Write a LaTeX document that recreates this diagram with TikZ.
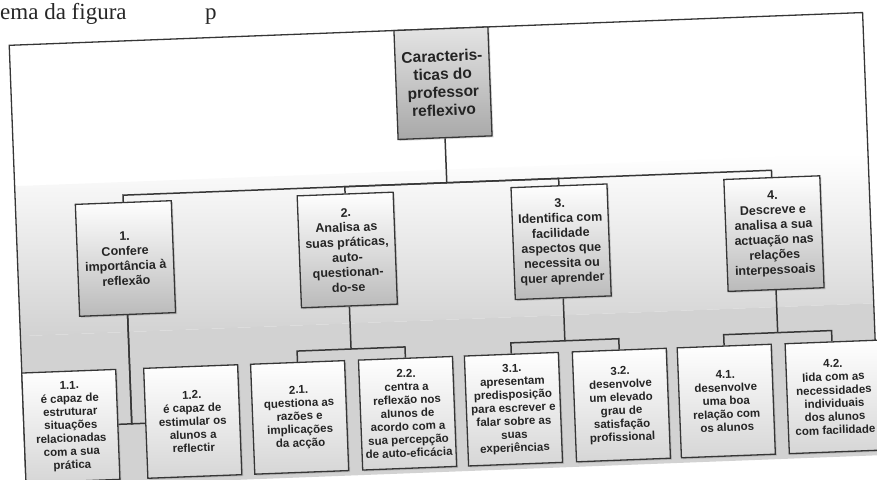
\documentclass[tikz,border=0pt]{standalone}
\usepackage{fontspec}
\setmainfont{Liberation Sans}
\newfontfamily\pageserif{Liberation Serif}
\usepackage{xcolor}
\usetikzlibrary{positioning,shadows}
\definecolor{lineGray}{HTML}{363636}
\definecolor{paperGray}{HTML}{D2D2D2}
\definecolor{rootTop}{HTML}{E4E4E4}
\definecolor{rootBottom}{HTML}{A8A8A8}
\definecolor{topicBottom}{HTML}{BABABA}
\definecolor{leafBottom}{HTML}{D6D6D6}
\definecolor{inkGray}{HTML}{242424}
\tikzstyle{boxBase}  =[draw=lineGray, line width=1.3pt, align=center, inner sep=2pt, text=inkGray,
                       drop shadow={shadow xshift=1.5pt, shadow yshift=-1.5pt, opacity=0.3}]
\tikzstyle{rootBox}  =[boxBase, minimum width=94pt, minimum height=109pt, top color=rootTop, bottom color=rootBottom,
                       font=\fontsize{15.5}{18}\selectfont\bfseries]
\tikzstyle{topicBox} =[boxBase, minimum width=96pt, minimum height=112pt, top color=white, bottom color=topicBottom,
                       font=\fontsize{12.5}{15}\selectfont\bfseries]
\tikzstyle{leafBox}  =[boxBase, minimum width=94pt, minimum height=110pt, top color=white, bottom color=leafBottom,
                       font=\fontsize{11.5}{13.3}\selectfont\bfseries]
\tikzstyle{link}     =[draw=lineGray, line width=1.5pt]
\tikzstyle{frameLine}=[draw=lineGray, line width=1.3pt]

\begin{document}
\begin{tikzpicture}[x=1pt, y=1pt, auto, on grid]
      \useasboundingbox (0,0) rectangle (877,-479);
      \clip (0,0) rectangle (877,-479);
      % line of the scanned page above the chart
      \node[anchor=base west, inner sep=0, text=black!85, font=\pageserif\fontsize{23}{23}\selectfont] (pageline) at (0,-19) {ema da figura};
      \node[anchor=base west, inner sep=0, text=black!85, font=\pageserif\fontsize{23}{23}\selectfont] (pagep) at (205,-19) {p};
      \begin{scope}[rotate around={2.2:(438,-240)}, transform shape]
      % frame
      \fill[white] (17,-29) rectangle (871,-472);
      \shade[top color=white, bottom color=paperGray] (17,-170) rectangle (871,-320);
      \fill[paperGray] (17,-320) rectangle (871,-472);
      \draw[frameLine] (17,-472) -- (17,-29) -- (871,-29) -- (871,-472);
      % root and topics
      \node[rootBox] (root) at (449,-83.5) {Caracteris-\\ticas do\\professor\\reflexivo};
      \node[topicBox] (t1) [below left = 163pt and 324pt of root] {1.\\Confere\\importância à\\reflexão};
      \node[topicBox] (t2) [below left = 163pt and 102pt of root] {2.\\Analisa as\\suas práticas,\\auto-\\questionan-\\do-se};
      \node[topicBox] (t3) [below right = 163pt and 112pt of root] {3.\\Identifica com\\facilidade\\aspectos que\\necessita ou\\quer aprender};
      \node[topicBox] (t4) [below right = 163pt and 325pt of root] {4.\\Descreve e\\analisa a sua\\actuação nas\\relações\\interpessoais};
      % leaves
      \node[leafBox] (t11) [below left = 165.5pt and 61pt of t1] {1.1.\\é capaz de\\estruturar\\situações\\relacionadas\\com a sua\\prática};
      \node[leafBox] (t12) [below right = 165.5pt and 61pt of t1] {1.2.\\é capaz de\\estimular os\\alunos a\\reflectir};
      \node[leafBox] (t21) [below left = 165.5pt and 54pt of t2] {2.1.\\questiona as\\razões e\\implicações\\da acção};
      \node[leafBox] (t22) [below right = 165.5pt and 54pt of t2] {2.2.\\centra a\\reflexão nos\\alunos de\\acordo com a\\sua percepção\\de auto-eficácia};
      \node[leafBox] (t31) [below left = 165.5pt and 54pt of t3] {3.1.\\apresentam\\predisposição\\para escrever e\\falar sobre as\\suas\\experiências};
      \node[leafBox] (t32) [below right = 165.5pt and 54pt of t3] {3.2.\\desenvolve\\um elevado\\grau de\\satisfação\\profissional};
      \node[leafBox] (t41) [below left = 165.5pt and 54pt of t4] {4.1.\\desenvolve\\uma boa\\relação com\\os alunos};
      \node[leafBox] (t42) [below right = 165.5pt and 54pt of t4] {4.2.\\lida com as\\necessidades\\individuais\\dos alunos\\com facilidade};
      % connectors
      \draw[link] (root.south) -- ++(0,-44.5) coordinate (hub);
      \foreach \t in {t1,t2,t3,t4}
        \draw[link] (hub) -| (\t.north);
      \draw[link] (t1.south) |- (t11.east);
      \draw[link] (t1.south) |- (t12.west);
      \foreach \p in {2,3,4}{
        \draw[link] (t\p.south) -- ++(0,-42.5) coordinate (sub\p);
        \draw[link] (sub\p) -| (t\p1.north);
        \draw[link] (sub\p) -| (t\p2.north);
      }
      \end{scope}
\end{tikzpicture}
\end{document}
